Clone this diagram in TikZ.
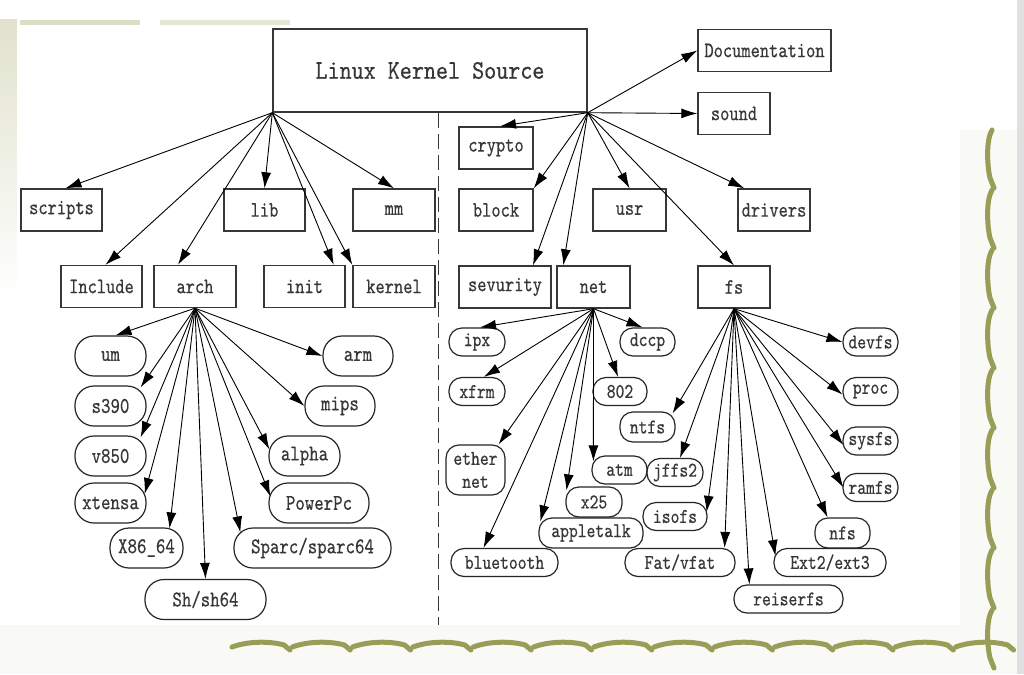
\documentclass[tikz,border=0pt]{standalone}
\usepackage{fontspec}
\usetikzlibrary{arrows.meta}
\definecolor{vine}{RGB}{152,158,88}
\definecolor{ink}{RGB}{55,55,55}
\newfontfamily\lblfont[FakeStretch=0.8,FakeBold=0.5]{lmmono10-regular.otf}
\newfontfamily\srcfont[FakeStretch=0.85,FakeBold=0.5]{lmmono10-regular.otf}
\begin{document}
\begin{tikzpicture}[x=1pt,y=-1pt,
	dirbox/.style={draw=ink,line width=1.4pt,minimum height=42pt,inner sep=0pt,
		font=\lblfont\fontsize{22}{22}\selectfont,text=ink},
	leaf/.style={draw=black!85,line width=1.2pt,rounded corners=13pt,minimum height=28pt,
		inner sep=0pt,font=\lblfont\fontsize{21}{21}\selectfont,text=ink},
	bigleaf/.style={leaf,rounded corners=19pt,minimum height=40pt,font=\lblfont\fontsize{22.5}{22.5}\selectfont},
	arr/.style={-{Latex[length=16pt,width=10pt]},line width=0.9pt},
	wave/.style={vine,line width=5pt,line cap=round}]
	\useasboundingbox (0,0) rectangle (1024,674);
	% background of the slide
	\fill[white] (0,0) rectangle (1024,674);
	\fill[vine!6] (0,625) rectangle (1017,674);
	\fill[vine!6] (960,130) rectangle (1017,674);
	\shade[top color=vine!30,bottom color=white] (0,20) rectangle (17,300);
	\fill[vine!35] (20,20) rectangle (140,25);
	\fill[vine!25] (160,20) rectangle (290,25);
	\fill[white] (17,25) rectangle (960,625);
	\fill[black!12] (1017,0) rectangle (1024,674);
	\foreach \i in {0,...,12}
		\draw[wave] (232+60.3*\i,647) .. controls (248+60.3*\i,641) and (270+60.3*\i,641) .. (284+60.3*\i,645) -- (290+60.3*\i,650);
	\foreach \i in {0,...,8}
		\draw[wave] (992,130+60*\i) .. controls (986,140+60*\i) and (987,165+60*\i) .. (990,178+60*\i) -- (994,188+60*\i);
	% root
	\node[dirbox,minimum width=314pt,minimum height=83pt,font=\srcfont\fontsize{27}{27}\selectfont] (src) at (430,70.5) {Linux Kernel Source};
	% left half
	\node[dirbox,minimum width=81pt] (scripts) at (61.5,210) {scripts};
	\node[dirbox,minimum width=81pt] (lib) at (264.5,210) {lib};
	\node[dirbox,minimum width=82pt] (mm) at (394,210) {mm};
	\node[dirbox,minimum width=81pt] (incl) at (101.5,286.5) {Include};
	\node[dirbox,minimum width=82pt] (arch) at (195,286.5) {arch};
	\node[dirbox,minimum width=81pt] (init) at (304.5,286.5) {init};
	\node[dirbox,minimum width=82pt] (kernel) at (394,286.5) {kernel};
	% right half
	\node[dirbox,minimum width=133pt] (doc) at (764.5,50.5) {Documentation};
	\node[dirbox,minimum width=72pt] (sound) at (734,113.5) {sound};
	\node[dirbox,minimum width=74pt] (crypto) at (496,148) {crypto};
	\node[dirbox,minimum width=74pt] (block) at (496,210) {block};
	\node[dirbox,minimum width=73pt] (usr) at (629.5,210) {usr};
	\node[dirbox,minimum width=72pt] (drivers) at (774,210) {drivers};
	\node[dirbox,minimum width=92pt] (security) at (505,287) {sevurity};
	\node[dirbox,minimum width=73pt] (net) at (593.5,287) {net};
	\node[dirbox,minimum width=72pt] (fs) at (734,287) {fs};
	\draw[ink,line width=1pt,dash pattern=on 15pt off 6pt] (438,113) -- (438,625);
	% arch
	\node[bigleaf,minimum width=71pt] (um) at (110.5,356) {um};
	\node[bigleaf,minimum width=71pt] (s390) at (110.5,406) {s390};
	\node[bigleaf,minimum width=71pt] (v850) at (110.5,456) {v850};
	\node[bigleaf,minimum width=71pt] (xtensa) at (110.5,503) {xtensa};
	\node[bigleaf,minimum width=73pt] (x86) at (146.5,548) {X86\_64};
	\node[bigleaf,minimum width=121pt] (sh) at (205.5,599.5) {Sh/sh64};
	\node[bigleaf,minimum width=157pt] (sparc) at (312.5,548) {Sparc/sparc64};
	\node[bigleaf,minimum width=100pt] (ppc) at (319,503) {PowerPc};
	\node[bigleaf,minimum width=71pt] (alpha) at (304.5,456) {alpha};
	\node[bigleaf,minimum width=70pt] (mips) at (340,406) {mips};
	\node[bigleaf,minimum width=70pt] (arm) at (358,356) {arm};
	% net
	\node[leaf,minimum width=56pt] (ipx) at (477,342) {ipx};
	\node[leaf,minimum width=55pt] (dccp) at (647.5,342) {dccp};
	\node[leaf,minimum width=56pt] (xfrm) at (477,391.5) {xfrm};
	\node[leaf,minimum width=54pt] (n802) at (620,391.5) {802};
	\node[leaf,minimum width=59pt,minimum height=50pt,align=center] (ether) at (475.5,470) {ether\\[2pt]net};
	\node[leaf,minimum width=55pt] (atm) at (619.5,470) {atm};
	\node[leaf,minimum width=56pt,minimum height=30pt] (x25) at (594,502) {x25};
	\node[leaf,minimum width=104pt,minimum height=30pt] (apple) at (591,533) {appletalk};
	\node[leaf,minimum width=107pt] (bt) at (504.5,562.5) {bluetooth};
	% fs
	\node[leaf,minimum width=55pt] (devfs) at (870.5,342) {devfs};
	\node[leaf,minimum width=55pt] (proc) at (870.5,391.5) {proc};
	\node[leaf,minimum width=55pt] (sysfs) at (870.5,441) {sysfs};
	\node[leaf,minimum width=55pt] (ramfs) at (870.5,487.5) {ramfs};
	\node[leaf,minimum width=55pt,minimum height=30pt] (ntfs) at (647.5,427) {ntfs};
	\node[leaf,minimum width=56pt] (jffs) at (675,472.5) {jffs2};
	\node[leaf,minimum width=64pt] (isofs) at (675,516.5) {isofs};
	\node[leaf,minimum width=55pt,minimum height=30pt] (nfs) at (842.5,533) {nfs};
	\node[leaf,minimum width=110pt] (fat) at (680,562.5) {Fat/vfat};
	\node[leaf,minimum width=112pt] (ext) at (830,562.5) {Ext2/ext3};
	\node[leaf,minimum width=109pt] (reiser) at (788.5,599) {reiserfs};
	% arrows from the root
	\draw[arr] (src.south west) -- ([xshift=4pt]scripts.north);
	\draw[arr] (src.south west) -- ([xshift=4pt]incl.north);
	\draw[arr] (src.south west) -- ([xshift=-17pt]arch.north);
	\draw[arr] (src.south west) -- (lib.north);
	\draw[arr] (src.south west) -- ([xshift=-12pt]init.north east);
	\draw[arr] (src.south west) -- (kernel.north west);
	\draw[arr] (src.south west) -- (mm.north);
	\draw[arr] (src.south east) -- (doc.west);
	\draw[arr] (src.south east) -- (sound.west);
	\draw[arr] (src.south east) -- ([xshift=4pt]crypto.north);
	\draw[arr] (src.south east) -- (block.north east);
	\draw[arr] (src.south east) -- ([xshift=28pt]security.north);
	\draw[arr] (src.south east) -- ([xshift=7pt]net.north west);
	\draw[arr] (src.south east) -- (usr.north);
	\draw[arr] (src.south east) -- ([xshift=7pt]drivers.north west);
	\draw[arr] (src.south east) -- (fs.north);
	% arch
	\draw[arr] (arch.south) -- ([xshift=5pt]um.north);
	\draw[arr] (arch.south) -- ([xshift=-6pt,yshift=-2pt]s390.north east);
	\draw[arr] (arch.south) -- ([xshift=-6pt,yshift=-2pt]v850.north east);
	\draw[arr] (arch.south) -- ([xshift=-2pt,yshift=9pt]xtensa.east);
	\draw[arr] (arch.south) -- ([xshift=23pt,yshift=-1pt]x86.north);
	\draw[arr] (arch.south) -- (sh.north);
	\draw[arr] (arch.south) -- ([xshift=7pt,yshift=-5pt]sparc.north west);
	\draw[arr] (arch.south) -- ([xshift=2pt,yshift=-14pt]ppc.north west);
	\draw[arr] (arch.south) -- ([xshift=1pt,yshift=-14pt]alpha.north west);
	\draw[arr] (arch.south) -- (mips.west);
	\draw[arr] (arch.south) -- (arm.west);
	% net
	\draw[arr] (net.south) -- ([xshift=3pt]ipx.north);
	\draw[arr] (net.south) -- ([xshift=-5pt]dccp.north);
	\draw[arr] (net.south) -- ([xshift=7pt]xfrm.north);
	\draw[arr] (net.south) -- ([xshift=-2pt]n802.north);
	\draw[arr] (net.south) -- ([xshift=-7pt]ether.north east);
	\draw[arr] (net.south) -- ([xshift=2pt,yshift=-6pt]atm.north west);
	\draw[arr] (net.south) -- ([xshift=1pt,yshift=-4pt]x25.north west);
	\draw[arr] (net.south) -- ([xshift=2pt,yshift=-4pt]apple.north west);
	\draw[arr] (net.south) -- ([xshift=-21pt]bt.north);
	% fs
	\draw[arr] (fs.south) -- (devfs.west);
	\draw[arr] (fs.south) -- ([yshift=-3pt]proc.west);
	\draw[arr] (fs.south) -- ([xshift=1pt,yshift=-4pt]sysfs.west);
	\draw[arr] (fs.south) -- ([xshift=1pt]ramfs.west);
	\draw[arr] (fs.south) -- ([xshift=-3pt,yshift=-2pt]ntfs.north east);
	\draw[arr] (fs.south) -- ([xshift=5pt]jffs.north);
	\draw[arr] (fs.south) -- ([xshift=-1pt,yshift=-10pt]isofs.north east);
	\draw[arr] (fs.south) -- ([xshift=-11pt]fat.north east);
	\draw[arr] (fs.south) -- ([xshift=16pt]reiser.north west);
	\draw[arr] (fs.south) -- ([xshift=2pt,yshift=-8pt]ext.north west);
	\draw[arr] (fs.south) -- ([xshift=-15pt]nfs.north);
\end{tikzpicture}
\end{document}
